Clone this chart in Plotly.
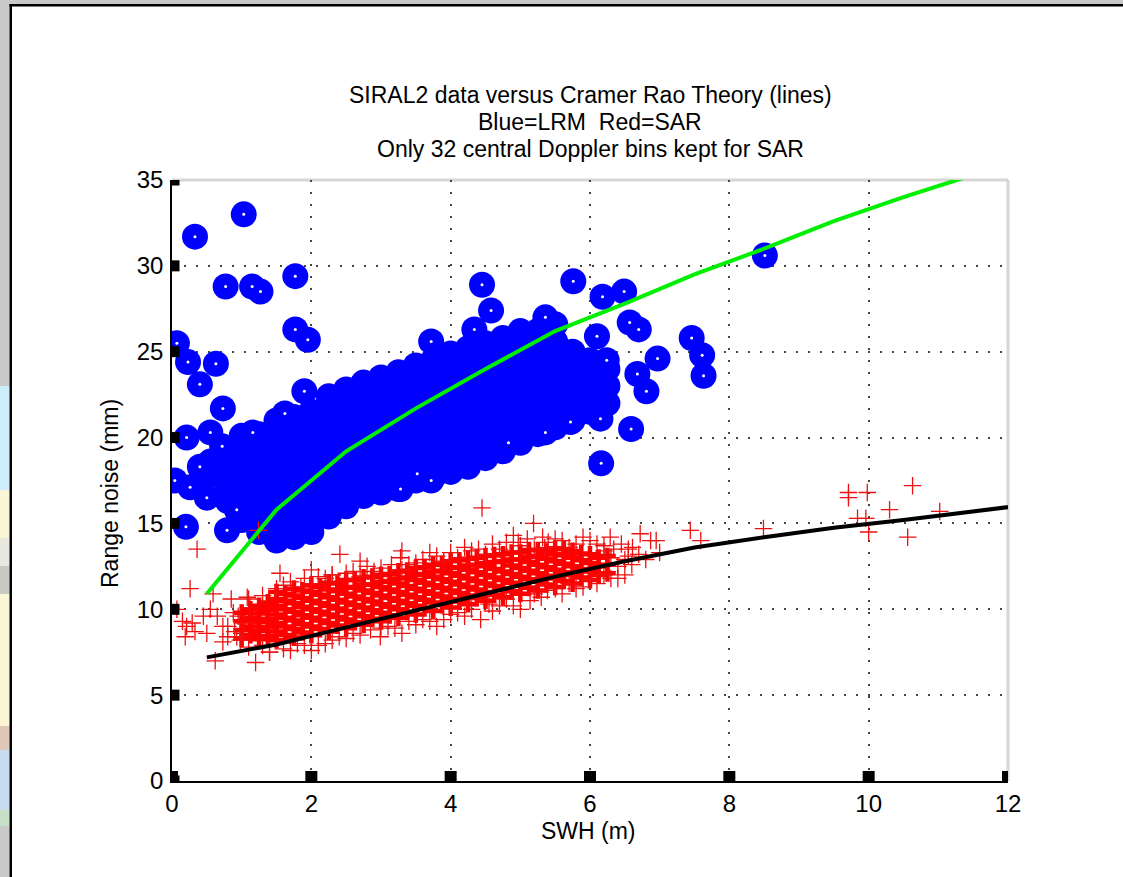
import plotly.graph_objects as go

# ---------------- data ----------------
# Theory curves (Cramer Rao)
theory_swh = [0.5, 1.5, 2.5, 3.5, 4.5, 5.5, 6.5, 7.5, 8.5, 9.5, 10.5, 11.5, 12.5]
lrm_theory = [10.9, 15.8, 19.2, 21.7, 24.0, 26.2, 27.8, 29.5, 31.0, 32.6, 34.0, 35.3, 36.5]
sar_theory = [7.2, 7.95, 8.95, 9.95, 10.9, 11.9, 12.8, 13.6, 14.2, 14.75, 15.2, 15.7, 16.2]

# LRM (blue) dense cloud, by SWH column
lrm_cloud_swh = [0.55, 0.8, 1.0, 1.25, 1.5, 1.75, 2.0, 2.25, 2.5, 2.75, 3.0, 3.25, 3.5,
                 3.75, 4.0, 4.25, 4.5, 4.75, 5.0, 5.25, 5.5, 5.75, 6.0, 6.25]
lrm_cloud_noise = [
    [17.8, 18.6],
    [16.3, 17.2, 18.5],
    [15.2, 16.2, 17.2, 18.2, 19.2, 20.1],
    [14.5, 15.5, 16.5, 17.5, 18.5, 19.5, 20.2],
    [14.0, 15.0, 16.0, 17.0, 18.0, 19.0, 20.0, 21.0],
    [14.2, 15.2, 16.2, 17.2, 18.2, 19.2, 20.2, 21.2],
    [14.5, 15.5, 16.5, 17.5, 18.5, 19.5, 20.5, 21.5],
    [15.4, 16.4, 17.4, 18.4, 19.4, 20.4, 21.4, 22.4],
    [16.0, 17.0, 18.0, 19.0, 20.0, 21.0, 22.0, 22.8],
    [16.6, 17.6, 18.6, 19.6, 20.6, 21.6, 22.6, 23.2],
    [16.8, 17.8, 18.8, 19.8, 20.8, 21.8, 22.8, 23.5],
    [17.0, 18.0, 19.0, 20.0, 21.0, 22.0, 23.0, 23.8],
    [17.5, 18.5, 19.5, 20.5, 21.5, 22.5, 23.5, 24.2],
    [17.7, 18.7, 19.7, 20.7, 21.7, 22.7, 23.7, 24.5],
    [18.0, 19.0, 20.0, 21.0, 22.0, 23.0, 24.0, 24.9],
    [18.3, 19.3, 20.3, 21.3, 22.3, 23.3, 24.3, 25.2],
    [18.8, 19.8, 20.8, 21.8, 22.8, 23.8, 24.8, 25.5],
    [19.2, 20.2, 21.2, 22.2, 23.2, 24.2, 25.2, 25.8],
    [19.7, 20.7, 21.7, 22.7, 23.7, 24.7, 25.7, 26.2],
    [20.2, 21.2, 22.2, 23.2, 24.2, 25.2, 26.2],
    [20.6, 21.6, 22.6, 23.6, 24.6, 25.6, 26.6],
    [21.0, 22.0, 23.0, 24.0, 25.0],
    [21.5, 22.5, 23.5, 24.5],
    [22.0, 23.0, 24.0],
]

# LRM isolated points
lrm_out_swh = [0.33, 1.03, 0.77, 1.15, 1.27, 1.77, 1.77, 1.95, 0.07, 0.23, 0.63, 0.40,
               0.73, 0.21, 0.55, 0.72, 0.04, 0.40, 0.26, 0.50, 0.20, 0.79, 0.93, 1.16,
               1.62, 1.90, 4.45, 5.76, 6.18, 6.49, 4.34, 3.72, 4.58, 6.57, 6.70, 7.46,
               7.61, 7.63, 6.97, 6.68, 6.81, 6.59, 6.16, 8.51, 6.10, 6.15, 5.72, 5.36,
               4.83, 3.72, 3.52, 3.28, 5.36, 6.24]
lrm_out_noise = [31.7, 33.0, 28.8, 28.8, 28.5, 29.4, 26.3, 25.7, 25.5, 24.4, 24.3, 23.1,
                 21.7, 20.0, 20.3, 19.5, 17.5, 18.3, 17.1, 16.5, 14.8, 14.6, 15.8, 20.3,
                 21.4, 22.7, 28.9, 29.1, 28.2, 28.5, 26.3, 25.6, 27.4, 26.7, 26.3, 25.8,
                 24.8, 23.6, 24.6, 23.7, 22.7, 20.5, 18.5, 30.6, 25.9, 21.1, 20.9, 20.3,
                 19.7, 17.5, 17.9, 17.0, 27.0, 24.5]

# SAR (red) dense band, by SWH column
sar_core_swh = [1.0, 1.125, 1.25, 1.375, 1.5, 1.625, 1.75, 1.875, 2.0, 2.125, 2.25, 2.375,
                2.5, 2.625, 2.75, 2.875, 3.0, 3.125, 3.25, 3.375, 3.5, 3.625, 3.75, 3.875,
                4.0, 4.125, 4.25, 4.375, 4.5, 4.625, 4.75, 4.875, 5.0, 5.125, 5.25, 5.375,
                5.5, 5.625, 5.75, 5.875, 6.0, 6.125, 6.25]
sar_core_noise = [
    [8.3, 8.8, 9.3, 9.8],
    [8.5, 9.0, 9.5, 10.0],
    [8.25, 8.75, 9.25, 9.75, 10.2],
    [8.45, 8.95, 9.45, 9.95, 10.4],
    [8.2, 8.7, 9.2, 9.7, 10.2, 10.6, 11.0],
    [8.5, 9.0, 9.5, 10.0, 10.5, 10.9],
    [8.35, 8.85, 9.35, 9.85, 10.35, 10.8, 11.2],
    [8.65, 9.15, 9.65, 10.15, 10.65, 11.1],
    [8.5, 9.0, 9.5, 10.0, 10.5, 11.0, 11.4],
    [8.85, 9.35, 9.85, 10.35, 10.85, 11.3],
    [8.7, 9.2, 9.7, 10.2, 10.7, 11.15, 11.55],
    [9.05, 9.55, 10.05, 10.55, 11.05, 11.5],
    [8.9, 9.4, 9.9, 10.4, 10.9, 11.3, 11.7],
    [9.25, 9.75, 10.25, 10.75, 11.25, 11.7],
    [9.1, 9.6, 10.1, 10.6, 11.1, 11.45, 11.85],
    [9.45, 9.95, 10.45, 10.95, 11.45, 11.9],
    [9.3, 9.8, 10.3, 10.8, 11.3, 11.6, 12.0],
    [9.65, 10.15, 10.65, 11.15, 11.65, 12.05],
    [9.5, 10.0, 10.5, 11.0, 11.5, 11.8, 12.2],
    [9.85, 10.35, 10.85, 11.35, 11.85, 12.25],
    [9.7, 10.2, 10.7, 11.2, 11.7, 12.0, 12.4],
    [10.05, 10.55, 11.05, 11.55, 12.05, 12.45],
    [9.9, 10.4, 10.9, 11.4, 11.9, 12.2, 12.6],
    [10.25, 10.75, 11.25, 11.75, 12.25, 12.65],
    [10.1, 10.6, 11.1, 11.6, 12.1, 12.4, 12.8],
    [10.45, 10.95, 11.45, 11.95, 12.45, 12.85],
    [10.3, 10.8, 11.3, 11.8, 12.3, 12.55, 12.95],
    [10.65, 11.15, 11.65, 12.15, 12.6, 13.0],
    [10.5, 11.0, 11.5, 12.0, 12.5, 12.7, 13.1],
    [10.85, 11.35, 11.85, 12.35, 12.75, 13.15],
    [10.7, 11.2, 11.7, 12.2, 12.8, 13.2],
    [11.05, 11.55, 12.05, 12.55, 12.9, 13.3],
    [10.9, 11.4, 11.9, 12.4, 12.9, 13.3],
    [11.25, 11.75, 12.25, 12.75, 13.05, 13.45],
    [11.1, 11.6, 12.1, 12.6, 13.1, 13.45],
    [11.45, 11.95, 12.45, 12.95, 13.35],
    [11.3, 11.8, 12.3, 12.8, 13.2, 13.55],
    [11.65, 12.15, 12.65, 13.15, 13.5],
    [11.5, 12.0, 12.5, 13.0, 13.4],
    [11.85, 12.35, 12.85, 13.25],
    [11.7, 12.2, 12.7, 13.2],
    [12.0, 12.5, 13.0],
    [12.1, 12.6, 13.1],
]

# SAR scattered points
sar_scatter_swh = [
    0.07, 0.21, 0.29, 0.19, 0.33, 0.45, 0.55, 0.65, 0.73, 0.73, 0.88, 0.90, 0.93, 1.08,
    1.12, 0.62, 1.20, 1.00, 0.36, 0.59, 0.26, 0.15, 0.50, 0.80,
    1.24, 1.50, 1.70, 1.90, 2.10, 2.30, 2.41, 2.60, 2.80, 3.00, 3.28, 3.40, 3.60, 3.80,
    4.00, 4.20, 4.45, 4.40, 4.60, 4.80, 4.97, 5.10, 5.19, 5.32, 5.40, 5.60, 5.80, 6.00,
    6.29, 6.34, 6.61, 6.72, 6.87, 6.95, 7.44, 7.59, 8.49, 9.71, 9.71, 9.98, 10.63, 9.84,
    9.96, 10.30, 10.00, 10.56, 11.02, 6.30, 6.50, 6.70, 6.45, 6.20, 6.60, 2.30, 1.40,
    1.40, 1.70, 1.90, 2.20, 2.50, 2.70, 2.99, 3.20, 3.50, 3.70, 3.90, 4.20, 4.43, 4.60,
    4.90, 5.14, 5.39, 5.60, 5.90, 6.10, 6.30, 6.50,
    1.30, 2.00, 2.70, 3.30, 3.90, 4.50, 5.20, 5.70, 6.20,
    1.30, 1.80, 2.40, 3.00, 3.60, 4.10, 4.70, 5.30, 5.80, 6.40,
    6.40, 6.55, 6.80, 7.00,
    1.10, 1.60, 1.85, 2.20, 2.50, 2.90, 3.15, 3.50, 3.70, 4.10, 4.30, 4.70, 5.00, 5.35,
    5.50, 5.90, 6.10, 4.90, 3.30, 2.70, 2.00, 1.55, 6.55,
    1.10, 1.60, 2.10, 2.30, 2.60, 2.85, 3.10, 3.40, 3.80, 4.00, 4.30, 4.55, 4.80, 5.00,
    5.20, 5.50, 5.70, 6.00, 6.20, 2.00, 3.30,
    0.95, 0.85, 1.05, 0.80, 0.98,
]
sar_scatter_noise = [
    10.0, 9.0, 9.2, 8.4, 8.7, 9.6, 10.0, 9.6, 9.0, 8.1, 9.8, 8.7, 8.4, 10.7,
    10.1, 7.0, 6.9, 8.6, 13.5, 10.9, 11.2, 9.3, 8.6, 8.4,
    14.6, 11.2, 11.6, 11.8, 11.9, 12.0, 13.2, 12.2, 12.5, 12.4, 13.0, 12.6, 12.9, 13.1,
    13.3, 13.6, 15.9, 13.5, 13.8, 13.9, 13.9, 14.1, 15.0, 14.2, 13.9, 14.0, 13.8, 14.0,
    14.2, 13.5, 13.6, 14.4, 14.0, 14.0, 14.6, 14.0, 14.7, 16.8, 16.5, 16.8, 17.2, 15.3,
    15.3, 15.8, 14.5, 14.2, 15.7, 13.0, 12.9, 13.2, 13.8, 13.7, 12.6, 12.0, 7.5,
    7.5, 7.6, 7.9, 8.0, 8.3, 8.5, 8.4, 8.9, 9.1, 9.3, 9.4, 9.6, 9.4, 9.9,
    10.2, 10.5, 11.1, 10.9, 11.3, 11.5, 11.8, 12.0,
    10.8, 11.5, 11.9, 12.3, 12.8, 13.2, 13.5, 13.6, 13.4,
    7.9, 8.0, 8.4, 8.9, 9.4, 9.8, 10.2, 10.7, 11.2, 11.8,
    12.5, 13.1, 12.9, 13.3,
    10.6, 11.4, 11.3, 11.8, 12.1, 12.2, 12.6, 12.7, 13.3, 13.0, 13.4, 13.5, 13.7, 13.6,
    14.1, 14.2, 13.8, 14.3, 13.4, 12.8, 12.3, 12.1, 13.5,
    7.8, 7.7, 7.9, 8.2, 8.6, 8.8, 9.0, 9.3, 9.0, 9.7, 10.0, 10.3, 10.6, 10.0,
    10.9, 11.2, 11.5, 11.7, 12.0, 7.6, 8.6,
    9.6, 10.6, 9.2, 9.0, 8.2,
]

x_ticks = [0, 2, 4, 6, 8, 10, 12]
y_ticks = [0, 5, 10, 15, 20, 25, 30, 35]
title_lines = ["SIRAL2 data versus Cramer Rao Theory (lines)",
               "Blue=LRM  Red=SAR",
               "Only 32 central Doppler bins kept for SAR"]
x_label = "SWH (m)"
y_label = "Range noise (mm)"

# ---------------- build ----------------
def flatten(cols_x, cols_y):
    xs, ys = [], []
    for cx, cy in zip(cols_x, cols_y):
        for v in cy:
            xs.append(cx)
            ys.append(v)
    return xs, ys

cloud_x, cloud_y = flatten(lrm_cloud_swh, lrm_cloud_noise)
core_x, core_y = flatten(sar_core_swh, sar_core_noise)

FONT = "Liberation Sans, Arial, Helvetica, sans-serif"
W, H = 1123, 877
L, R, T, B = 172, 1008, 180, 781  # plot area in pixels


def px(x):
    return (x - L) / (R - L)


def py(y):
    return (B - y) / (B - T)


fig = go.Figure()

fig.add_trace(go.Scatter(x=cloud_x, y=cloud_y, mode="markers",
                         marker=dict(size=26, color="#0000ff", line=dict(width=0)),
                         hoverinfo="skip"))
fig.add_trace(go.Scatter(x=lrm_out_swh, y=lrm_out_noise, mode="markers",
                         marker=dict(size=26, color="#0000ff", line=dict(width=0)),
                         hoverinfo="skip"))
fig.add_trace(go.Scatter(x=lrm_out_swh, y=lrm_out_noise, mode="markers",
                         marker=dict(size=3, color="white", line=dict(width=0)),
                         hoverinfo="skip"))
fig.add_trace(go.Scatter(x=core_x, y=core_y, mode="markers",
                         marker=dict(symbol="cross-thin", size=12, color="#ff0000",
                                     line=dict(color="#ff0000", width=4.5)),
                         hoverinfo="skip"))
fig.add_trace(go.Scatter(x=sar_scatter_swh, y=sar_scatter_noise, mode="markers",
                         marker=dict(symbol="cross-thin", size=12.5, color="#ee1010",
                                     line=dict(color="#ee1010", width=1.3)),
                         hoverinfo="skip"))
fig.add_trace(go.Scatter(x=theory_swh, y=lrm_theory, mode="lines",
                         line=dict(color="#00ee00", width=4), hoverinfo="skip"))
fig.add_trace(go.Scatter(x=theory_swh, y=sar_theory, mode="lines",
                         line=dict(color="black", width=4), hoverinfo="skip"))

axis_common = dict(
    showline=True, linecolor="black", linewidth=1.5, mirror=False,
    ticks="",
    showgrid=True, gridcolor="#444444", gridwidth=1.5, griddash="2px,10px",
    zeroline=False, tickfont=dict(family=FONT, size=24, color="black"),
)

fig.update_xaxes(range=[0, 12], tickvals=x_ticks, ticktext=[str(v) for v in x_ticks],
                 ticklabelstandoff=0, **axis_common)
fig.update_yaxes(range=[0, 35], tickvals=y_ticks, ticktext=[str(v) for v in y_ticks],
                 ticklabelstandoff=2, **axis_common)

shapes = []
# light box edges on top and right
shapes.append(dict(type="line", xref="paper", yref="paper", x0=0, x1=1, y0=1, y1=1,
                   line=dict(color="#d6d6d6", width=3), layer="below"))
shapes.append(dict(type="line", xref="paper", yref="paper", x0=1, x1=1, y0=0, y1=1,
                   line=dict(color="#d6d6d6", width=3), layer="below"))

# square tick marks (MATLAB style), placed at the axis tick values
for v in x_ticks:
    shapes.append(dict(type="rect", xref="x", xsizemode="pixel", xanchor=v, x0=-6, x1=6,
                       yref="paper", ysizemode="pixel", yanchor=0, y0=-0.5, y1=10,
                       fillcolor="black", line=dict(width=0), layer="above"))
for v in y_ticks:
    shapes.append(dict(type="rect", xref="paper", xsizemode="pixel", xanchor=0, x0=0, x1=7.5,
                       yref="y", ysizemode="pixel", yanchor=v, y0=-5.5, y1=5.5,
                       fillcolor="black", line=dict(width=0), layer="above"))

# window frame around the figure (screenshot border)
left_strip = [(0, 386, "#c9c9c9"), (386, 490, "#cdeefa"), (490, 538, "#fbf6d6"),
              (538, 566, "#e8e8e0"), (566, 594, "#c9c9c4"), (594, 726, "#fbf6d6"),
              (726, 750, "#e0c8b8"), (750, 810, "#c8dcf0"), (810, 826, "#c8e0c8"),
              (826, 877, "#c9c9c9")]
for y0, y1, c in left_strip:
    shapes.append(dict(type="rect", xref="paper", yref="paper",
                       x0=px(0), x1=px(9.5), y0=py(y1), y1=py(y0),
                       fillcolor=c, line=dict(width=0), layer="below"))
shapes.append(dict(type="rect", xref="paper", yref="paper",
                   x0=px(0), x1=px(W), y0=py(4), y1=py(0),
                   fillcolor="#c9c9c9", line=dict(width=0), layer="below"))
shapes.append(dict(type="rect", xref="paper", yref="paper",
                   x0=px(9.5), x1=px(W), y0=py(6.5), y1=py(4),
                   fillcolor="black", line=dict(width=0), layer="below"))
shapes.append(dict(type="rect", xref="paper", yref="paper",
                   x0=px(9.5), x1=px(12), y0=py(H), y1=py(4),
                   fillcolor="black", line=dict(width=0), layer="below"))

annotations = []
for i, (txt, yy) in enumerate(zip(title_lines, [95.5, 122, 148.5])):
    annotations.append(dict(text=txt, xref="paper", yref="paper", x=0.5, y=py(yy),
                            xanchor="center", yanchor="middle", showarrow=False,
                            font=dict(family=FONT, size=23, color="black")))
annotations.append(dict(text=x_label, xref="paper", yref="paper", x=px(588), y=py(831),
                        xanchor="center", yanchor="middle", showarrow=False,
                        font=dict(family=FONT, size=23, color="black")))
annotations.append(dict(text=y_label, xref="paper", yref="paper", x=px(110), y=py(494),
                        xanchor="center", yanchor="middle", showarrow=False, textangle=-90,
                        font=dict(family=FONT, size=23, color="black")))

fig.update_layout(width=W, height=H, margin=dict(l=L, r=W - R, t=T, b=H - B, pad=0),
                  paper_bgcolor="white", plot_bgcolor="white", showlegend=False,
                  shapes=shapes, annotations=annotations)

fig.write_html("out.html")
